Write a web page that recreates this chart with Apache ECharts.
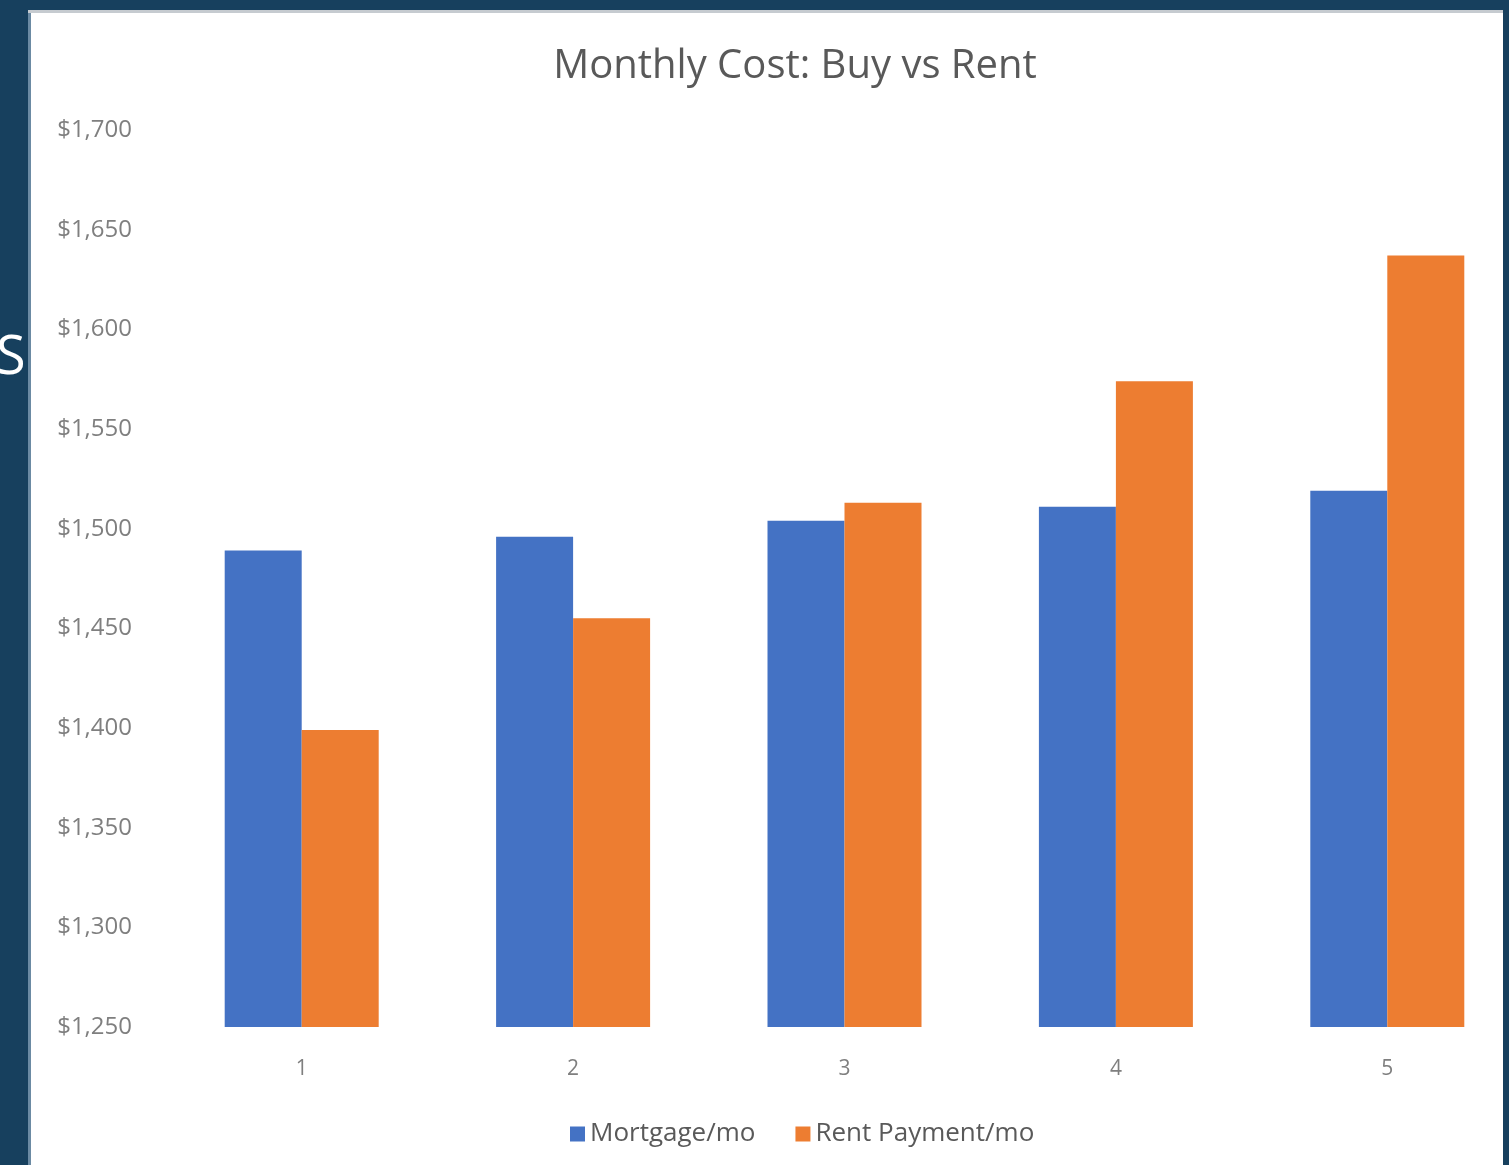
<!DOCTYPE html>
<html lang="en">
<head>
    <meta charset="UTF-8">
    <title>Monthly Cost: Buy vs Rent</title>
    <style>
        html, body { margin: 0; padding: 0; background: #17405e; overflow: hidden; }
    </style>
</head>
<body>
<div id="main" style="width: 1540px;height:1165px;"></div>
<script src="https://cdn.jsdelivr.net/npm/echarts@6/dist/echarts.min.js"></script>
<script>
    // 数据
    var years = ['1', '2', '3', '4', '5'];
    var mortgage = [1489, 1496, 1504, 1511, 1519];
    var rent = [1399, 1455, 1513, 1574, 1637];
    var yTicks = [1250, 1700, 50];   // min, max, interval

    var myChart = echarts.init(document.getElementById('main'));
    myChart.setOption({
        backgroundColor: '#17405e',
        textStyle: { fontFamily: 'Open Sans' },
        graphic: [
            // 白色面板和边框
            { type: 'rect', z: -10, shape: { x: 28, y: 10, width: 1475, height: 1155 }, style: { fill: '#c6cbd0' } },
            { type: 'rect', z: -10, shape: { x: 28, y: 13, width: 3, height: 1152 }, style: { fill: '#6b8aa3' } },
            { type: 'rect', z: -9, shape: { x: 31, y: 13, width: 1472, height: 1152 }, style: { fill: '#ffffff' } },
            // 幻灯片上被遮住的文字
            { type: 'text', z: -9, left: -4, top: 332, style: { text: 'S', fill: '#ffffff', font: '54px "Open Sans"' } }
        ],
        title: {
            text: 'Monthly Cost: Buy vs Rent',
            left: 790,
            textAlign: 'center',
            top: 42,
            textStyle: { color: '#595959', fontSize: 40, fontWeight: 'normal', fontFamily: 'Open Sans' }
        },
        legend: {
            data: ['Mortgage/mo', 'Rent Payment/mo'],
            left: 565,
            top: 1116,
            icon: 'rect',
            itemWidth: 15,
            itemHeight: 15,
            itemGap: 40,
            textStyle: { color: '#595959', fontSize: 26, fontFamily: 'Open Sans' }
        },
        grid: { left: 166, width: 1357, top: 130, height: 897 },
        xAxis: {
            type: 'category',
            data: years,
            axisLine: { show: false },
            axisTick: { show: false },
            axisLabel: { color: '#7f7f7f', fontSize: 21, margin: 32 }
        },
        yAxis: {
            type: 'value',
            min: yTicks[0],
            max: yTicks[1],
            interval: yTicks[2],
            splitLine: { show: false },
            axisLine: { show: false },
            axisTick: { show: false },
            axisLabel: {
                color: '#7f7f7f',
                fontSize: 24,
                margin: 34,
                formatter: function (v) { return '$' + v.toLocaleString('en-US'); }
            }
        },
        series: [
            {
                name: 'Mortgage/mo',
                type: 'bar',
                data: mortgage,
                barWidth: 77,
                barGap: '0%',
                itemStyle: { color: '#4472c4' }
            },
            {
                name: 'Rent Payment/mo',
                type: 'bar',
                data: rent,
                barWidth: 77,
                itemStyle: { color: '#ed7d31' }
            }
        ]
    });
</script>
</body>
</html>
